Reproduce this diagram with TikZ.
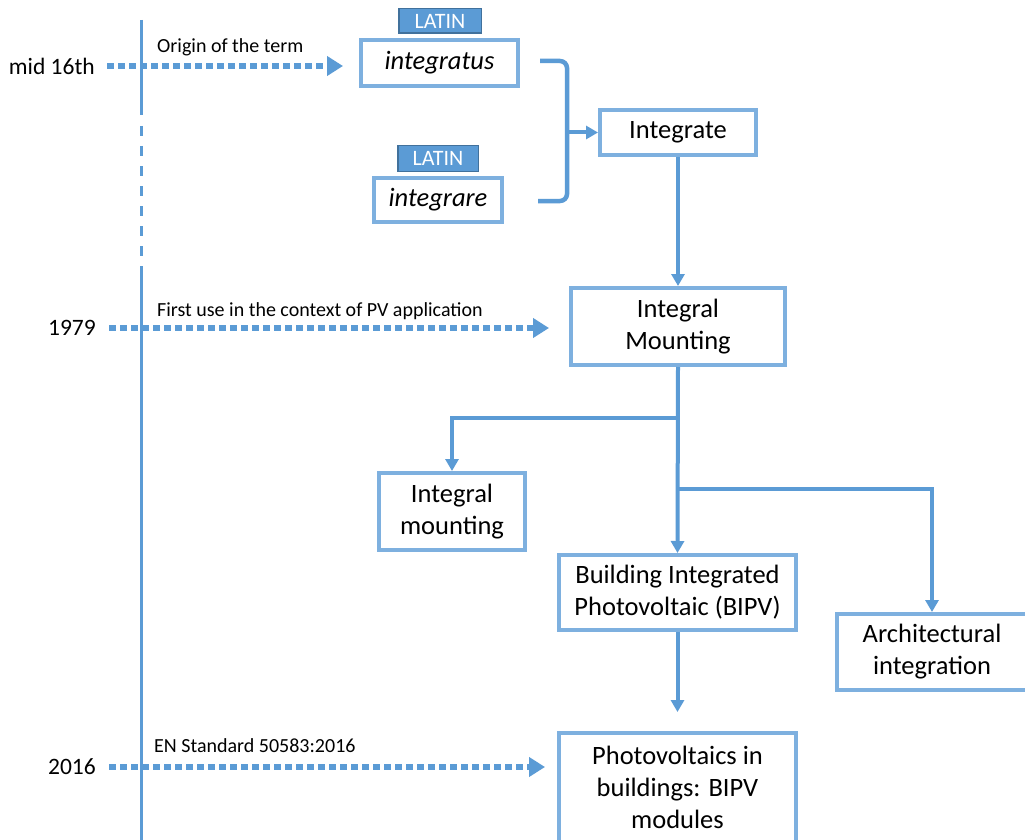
\documentclass[tikz,border=0pt]{standalone}
\usepackage{fontspec}
\setmainfont{Carlito}
\usetikzlibrary{arrows.meta,calc}
\definecolor{lineblue}{RGB}{91,155,213}
\definecolor{boxblue}{RGB}{126,176,223}
\definecolor{latinedge}{RGB}{65,113,156}
\tikzset{
  box/.style={draw=boxblue, line width=4pt, fill=white, align=center, inner sep=0pt,
    font=\fontsize{26.5}{32}\selectfont},
  sz/.style 2 args={minimum width=#1pt, minimum height=#2pt},
  latinbox/.style={draw=latinedge, line width=1.5pt, fill=lineblue, text=white, inner sep=0pt,
    font=\fontsize{22}{24}\selectfont},
  conn/.style={draw=lineblue, line width=4pt},
  connarrow/.style={conn, -{Triangle[length=12pt,width=13pt]}},
  dotarrow/.style={draw=lineblue, line width=6pt, dash pattern=on 6.5pt off 4.5pt,
    -{Triangle[length=16pt,width=19pt]}},
  timeline/.style={draw=lineblue, line width=3pt},
  steplabel/.style={inner sep=0pt, font=\fontsize{20}{24}\selectfont},
  yearlabel/.style={inner sep=0pt, anchor=east, font=\fontsize{23.5}{26}\selectfont},
}
\begin{document}
\begin{tikzpicture}[x=1pt,y=-1pt]
\useasboundingbox (0,0) rectangle (1025,840);
\clip (0,0) rectangle (1025,840);
\fill[white] (0,0) rectangle (1025,840);

% timeline
\draw[timeline] (141,20) -- (141,115);
\draw[timeline, dash pattern=on 10pt off 10pt] (141,126) -- (141,262);
\draw[timeline] (141,266) -- (141,845);

% boxes
\node[latinbox, sz={82.5}{24.5}] (lat1) at (440,21) {LATIN};
\node[box, sz={157}{46}] (integratus) at (439.5,63) {\itshape integratus};
\node[latinbox, sz={80.5}{25.5}] (lat2) at (438,158.5) {LATIN};
\node[box, sz={128}{44}] (integrare) at (438,200) {\itshape integrare};
\node[box, sz={156}{45}] (integrate) at (678,132.5) {Integrate};
\node[box, sz={214}{77}] (mount) at (678,326.5) {Integral\\Mounting};
\node[box, sz={146}{77}] (intmount) at (452,511.5) {Integral\\mounting};
\node[box, sz={237}{75}] (bipv) at (677.5,592.5) {Building Integrated\\Photovoltaic (BIPV)};
\node[box, sz={190}{76}] (arch) at (932,652) {Architectural\\integration};
\node[box, sz={237}{109}] (pv) at (677.5,787) {Photovoltaics in\\buildings: BIPV\\modules};

% year labels and arrow labels
\node[yearlabel] (y16) at (95,66) {mid 16th};
\node[yearlabel] (y79) at (96,328) {1979};
\node[yearlabel] (y16b) at (96,767) {2016};
\node[steplabel, anchor=west] (l1) at (157,47) {Origin of the term};
\node[steplabel, anchor=west] (l2) at (157,311) {First use in the context of PV application};
\node[steplabel, anchor=west] (l3) at (154,746) {EN Standard 50583:2016};

% dotted arrows
\draw[dotarrow] ([xshift=12pt]y16.east) -- ([xshift=-16pt]integratus.west |- y16.east);
\draw[dotarrow] ([xshift=13pt]y79.east) -- ([xshift=-20pt]mount.west |- y79.east);
\draw[dotarrow] ([xshift=13pt]y16b.east) -- ([xshift=-12pt]pv.west |- y16b.east);

% bracket
\coordinate (bt) at ([xshift=20pt,yshift=2pt]integratus.east);
\coordinate (bb) at ([xshift=34pt,yshift=-1pt]integrare.east);
\coordinate (bx) at (567,132.5);
\draw[conn, line width=4.5pt, rounded corners=7pt] (bt) -| (bx) |- (bb);
\draw[connarrow] (bx) -- (integrate.west);

% connectors
\draw[connarrow] (integrate.south) -- (mount.north);
\draw[connarrow] (mount.south) -- (bipv.north);
\coordinate (br1) at (678,418);
\coordinate (br2) at (678,489);
\draw[connarrow] (br1) -| (intmount.north);
\draw[connarrow] (br2) -| (arch.north);
\coordinate (pvtip) at (677.5,712);
\draw[connarrow] (bipv.south) -- (pvtip);
\end{tikzpicture}
\end{document}
